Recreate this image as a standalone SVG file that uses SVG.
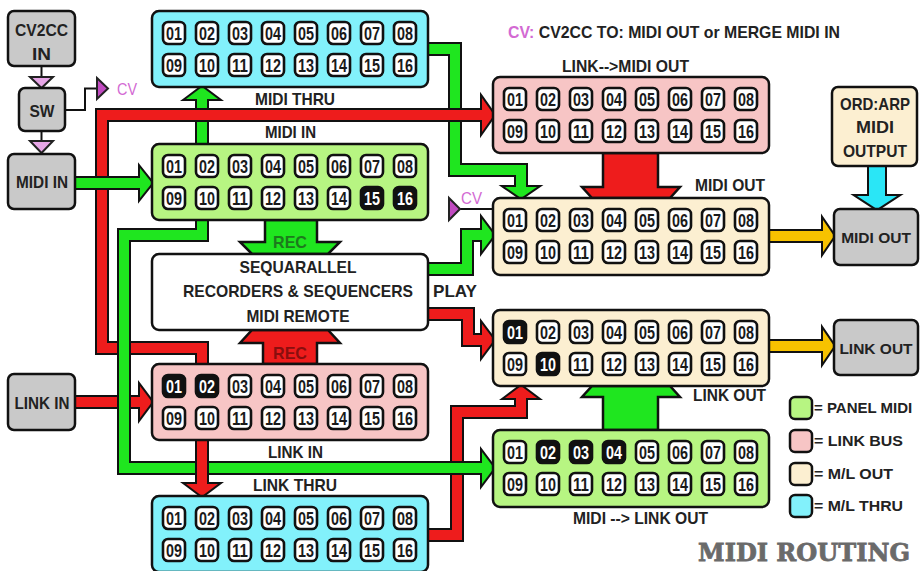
<svg xmlns="http://www.w3.org/2000/svg" xmlns:xlink="http://www.w3.org/1999/xlink" width="920" height="571" viewBox="0 0 920 571">
<style>
.panel{stroke:#111;stroke-width:2.5}
.cyan{fill:#82f1fb}.green{fill:#b7f582}.pink{fill:#f7c5c5}.cream{fill:#fcefd1}.gray{fill:#c9c9c9}.white{fill:#fff}
.n{font-family:"Liberation Sans",Arial,sans-serif;font-weight:bold;font-size:19px;text-anchor:middle;fill:#1a1a1a}
.n.wt{fill:#fff}
.t{font-family:"Liberation Sans",Arial,sans-serif;font-weight:bold;font-size:17px;text-anchor:middle;fill:#222}
.ls{text-anchor:start}
.sm{font-size:15.5px}
.lg{font-size:15px}
.so{fill:none;stroke:#111;stroke-width:14;stroke-linejoin:miter}
.sf{fill:none;stroke-width:10;stroke-linejoin:miter}
.ho{fill:#111;stroke:#111;stroke-width:4;stroke-linejoin:miter}
.hf{stroke:none}
.r .sf{stroke:#ee1c1c}.r .hf{fill:#ee1c1c}
.g .sf{stroke:#1fe61f}.g .hf{fill:#1fe61f}
.y .sf{stroke:#f7c200}.y .hf{fill:#f7c200}
.c .sf{stroke:#2ae6f6;stroke-width:16}.c .so{stroke-width:20}.c .hf{fill:#2ae6f6}
.blk{stroke:#111;stroke-width:2.5;stroke-linejoin:miter}
.tri{stroke:#222;stroke-width:2}
.thin{fill:none;stroke:#111;stroke-width:2}
.cv{font-family:"Liberation Sans",Arial,sans-serif;font-size:16px;fill:#d36ad3}
</style>
<defs>
<rect id="w" width="22" height="22" rx="5" fill="#fff" stroke="#111" stroke-width="2.6"/>
<rect id="k" width="22" height="22" rx="5" fill="#111" stroke="#111" stroke-width="2.6"/>
</defs>
<rect width="920" height="571" fill="#fff"/>

<g id="connectors">
<g class="g"><path class="so" d="M202,144 V97"/><polygon class="ho" points="186,99 202,87 218,99"/><path class="sf" d="M202,144 V97"/><polygon class="hf" points="186,99 202,87 218,99"/></g>
<g class="g"><path class="so" d="M428,49 H455 V170 H521 V190"/><polygon class="ho" points="505,187 521,198 537,187"/><path class="sf" d="M428,49 H455 V170 H521 V190"/><polygon class="hf" points="505,187 521,198 537,187"/></g>
<g class="r"><path class="so" d="M75,402 H143"/><polygon class="ho" points="140,386 152,402 140,418"/><path class="sf" d="M75,402 H143"/><polygon class="hf" points="140,386 152,402 140,418"/></g>
<g class="r"><path class="so" d="M428,535 H457 V412 H521 V395"/><polygon class="ho" points="505,398 521,386 537,398"/><path class="sf" d="M428,535 H457 V412 H521 V395"/><polygon class="hf" points="505,398 521,386 537,398"/></g>
<g class="r"><path class="so" d="M202,364 V348 H102 V115 H485"/><polygon class="ho" points="482,98 494,115 482,132"/><path class="sf" d="M202,364 V348 H102 V115 H485"/><polygon class="hf" points="482,98 494,115 482,132"/></g>
<g class="g"><path class="so" d="M202,220 V235 H124 V468 H485"/><polygon class="ho" points="482,452 494,468 482,484"/><path class="sf" d="M202,220 V235 H124 V468 H485"/><polygon class="hf" points="482,452 494,468 482,484"/></g>
<g class="r"><path class="so" d="M202,440 V487"/><polygon class="ho" points="186,484 202,496 218,484"/><path class="sf" d="M202,440 V487"/><polygon class="hf" points="186,484 202,496 218,484"/></g>
<g class="g"><path class="so" d="M75,183 H143"/><polygon class="ho" points="140,168 152,183 140,198"/><path class="sf" d="M75,183 H143"/><polygon class="hf" points="140,168 152,183 140,198"/></g>
<g class="g"><path class="so" d="M428,269 H467 V235 H485"/><polygon class="ho" points="482,219 494,235 482,251"/><path class="sf" d="M428,269 H467 V235 H485"/><polygon class="hf" points="482,219 494,235 482,251"/></g>
<g class="r"><path class="so" d="M428,314 H468 V340 H485"/><polygon class="ho" points="482,324 494,340 482,356"/><path class="sf" d="M428,314 H468 V340 H485"/><polygon class="hf" points="482,324 494,340 482,356"/></g>
<g class="y"><path class="so" d="M769,236 H826"/><polygon class="ho" points="823,220 834,236 823,252"/><path class="sf" d="M769,236 H826"/><polygon class="hf" points="823,220 834,236 823,252"/></g>
<g class="y"><path class="so" d="M769,346 H826"/><polygon class="ho" points="823,330 834,346 823,362"/><path class="sf" d="M769,346 H826"/><polygon class="hf" points="823,330 834,346 823,362"/></g>
<g class="c"><path class="so" d="M877,166 V199"/><polygon class="ho" points="857,196 877,209 897,196"/><path class="sf" d="M877,166 V199"/><polygon class="hf" points="857,196 877,209 897,196"/></g>
<polygon class="blk" fill="#1fe61f" points="265,220 317,220 317,242 340,242 328,254 252,254 240,242 265,242"/>
<polygon class="blk" fill="#ee1c1c" points="263,364 317,364 317,343 340,343 328,330 252,330 240,343 263,343"/>
<polygon class="blk" fill="#ee1c1c" points="603,153 658,153 658,187 680,187 670,198 592,198 582,187 603,187"/>
<polygon class="blk" fill="#1fe61f" points="603,430 658,430 658,397 680,397 670,386 592,386 582,397 603,397"/>
<text class="t" x="290" y="248" style="fill:#1d7a1d" textLength="34" lengthAdjust="spacingAndGlyphs">REC</text>
<text class="t" x="290" y="359" style="fill:#8a0e0e" textLength="34" lengthAdjust="spacingAndGlyphs">REC</text>
<line class="thin" x1="41.5" y1="66" x2="41.5" y2="77"/>
<line class="thin" x1="41.5" y1="131" x2="41.5" y2="141"/>
<polyline class="thin" points="65,110 85,110 85,88.5 97,88.5"/>
<line class="thin" x1="460" y1="209" x2="493" y2="209"/>
<polygon class="tri" fill="#e7a6e7" points="30,77 53,77 41.5,88"/>
<polygon class="tri" fill="#e7a6e7" points="30,141 53,141 41.5,153"/>
<polygon class="tri" fill="#c04ac0" points="97,78 108,88.5 97,99"/>
<polygon class="tri" fill="#c04ac0" points="449,198 460,209 449,220"/>
</g>

<g id="cv2cc-in"><rect class="panel gray" x="8" y="11" width="67" height="55" rx="6"/><text class="t" x="41.5" y="36" textLength="53" lengthAdjust="spacingAndGlyphs">CV2CC</text><text class="t" x="41.5" y="60" textLength="19" lengthAdjust="spacingAndGlyphs">IN</text></g>
<g id="sw"><rect class="panel gray" x="19" y="88" width="46" height="43" rx="6"/><text class="t" x="42" y="117" textLength="25" lengthAdjust="spacingAndGlyphs">SW</text></g>
<g id="midi-in-port"><rect class="panel gray" x="8" y="154" width="67" height="55" rx="6"/><text class="t" x="42" y="188" textLength="52" lengthAdjust="spacingAndGlyphs">MIDI IN</text></g>
<g id="link-in-port"><rect class="panel gray" x="8" y="374" width="67" height="56" rx="6"/><text class="t" x="42" y="409" textLength="55" lengthAdjust="spacingAndGlyphs">LINK IN</text></g>
<g id="midi-out-port"><rect class="panel gray" x="834" y="209" width="84" height="56" rx="6"/><text class="t sm" x="876" y="243">MIDI OUT</text></g>
<g id="link-out-port"><rect class="panel gray" x="834" y="320" width="84" height="55" rx="6"/><text class="t sm" x="876" y="354">LINK OUT</text></g>
<g id="ordarp"><rect class="panel cream" x="832" y="87" width="85" height="79" rx="6"/><text class="t" x="875" y="110" textLength="70" lengthAdjust="spacingAndGlyphs">ORD:ARP</text><text class="t" x="875" y="133" textLength="38" lengthAdjust="spacingAndGlyphs">MIDI</text><text class="t" x="875" y="157" textLength="64" lengthAdjust="spacingAndGlyphs">OUTPUT</text></g>

<g id="sequencer"><rect class="panel white" x="152" y="254" width="276" height="76" rx="7"/>
<text class="t" x="298" y="273" textLength="117" lengthAdjust="spacingAndGlyphs">SEQUARALLEL</text>
<text class="t" x="298" y="297" textLength="230" lengthAdjust="spacingAndGlyphs">RECORDERS &amp; SEQUENCERS</text>
<text class="t" x="298" y="322" textLength="103" lengthAdjust="spacingAndGlyphs">MIDI REMOTE</text></g>

<g id="midi-thru" transform="translate(152,11)"><rect class="panel cyan" width="276" height="76" rx="7"/>
<use href="#w" x="11" y="11"/><use href="#w" x="44" y="11"/><use href="#w" x="77" y="11"/><use href="#w" x="110" y="11"/><use href="#w" x="143" y="11"/><use href="#w" x="176" y="11"/><use href="#w" x="209" y="11"/><use href="#w" x="242" y="11"/>
<use href="#w" x="11" y="43"/><use href="#w" x="44" y="43"/><use href="#w" x="77" y="43"/><use href="#w" x="110" y="43"/><use href="#w" x="143" y="43"/><use href="#w" x="176" y="43"/><use href="#w" x="209" y="43"/><use href="#w" x="242" y="43"/>
<text class="n" x="22" y="29" textLength="16" lengthAdjust="spacingAndGlyphs">01</text><text class="n" x="55" y="29" textLength="16" lengthAdjust="spacingAndGlyphs">02</text><text class="n" x="88" y="29" textLength="16" lengthAdjust="spacingAndGlyphs">03</text><text class="n" x="121" y="29" textLength="16" lengthAdjust="spacingAndGlyphs">04</text><text class="n" x="154" y="29" textLength="16" lengthAdjust="spacingAndGlyphs">05</text><text class="n" x="187" y="29" textLength="16" lengthAdjust="spacingAndGlyphs">06</text><text class="n" x="220" y="29" textLength="16" lengthAdjust="spacingAndGlyphs">07</text><text class="n" x="253" y="29" textLength="16" lengthAdjust="spacingAndGlyphs">08</text>
<text class="n" x="22" y="61" textLength="16" lengthAdjust="spacingAndGlyphs">09</text><text class="n" x="55" y="61" textLength="16" lengthAdjust="spacingAndGlyphs">10</text><text class="n" x="88" y="61" textLength="16" lengthAdjust="spacingAndGlyphs">11</text><text class="n" x="121" y="61" textLength="16" lengthAdjust="spacingAndGlyphs">12</text><text class="n" x="154" y="61" textLength="16" lengthAdjust="spacingAndGlyphs">13</text><text class="n" x="187" y="61" textLength="16" lengthAdjust="spacingAndGlyphs">14</text><text class="n" x="220" y="61" textLength="16" lengthAdjust="spacingAndGlyphs">15</text><text class="n" x="253" y="61" textLength="16" lengthAdjust="spacingAndGlyphs">16</text>
</g>

<g id="midi-in" transform="translate(152,144)"><rect class="panel green" width="276" height="76" rx="7"/>
<use href="#w" x="11" y="11"/><use href="#w" x="44" y="11"/><use href="#w" x="77" y="11"/><use href="#w" x="110" y="11"/><use href="#w" x="143" y="11"/><use href="#w" x="176" y="11"/><use href="#w" x="209" y="11"/><use href="#w" x="242" y="11"/>
<use href="#w" x="11" y="43"/><use href="#w" x="44" y="43"/><use href="#w" x="77" y="43"/><use href="#w" x="110" y="43"/><use href="#w" x="143" y="43"/><use href="#w" x="176" y="43"/><use href="#k" x="209" y="43"/><use href="#k" x="242" y="43"/>
<text class="n" x="22" y="29" textLength="16" lengthAdjust="spacingAndGlyphs">01</text><text class="n" x="55" y="29" textLength="16" lengthAdjust="spacingAndGlyphs">02</text><text class="n" x="88" y="29" textLength="16" lengthAdjust="spacingAndGlyphs">03</text><text class="n" x="121" y="29" textLength="16" lengthAdjust="spacingAndGlyphs">04</text><text class="n" x="154" y="29" textLength="16" lengthAdjust="spacingAndGlyphs">05</text><text class="n" x="187" y="29" textLength="16" lengthAdjust="spacingAndGlyphs">06</text><text class="n" x="220" y="29" textLength="16" lengthAdjust="spacingAndGlyphs">07</text><text class="n" x="253" y="29" textLength="16" lengthAdjust="spacingAndGlyphs">08</text>
<text class="n" x="22" y="61" textLength="16" lengthAdjust="spacingAndGlyphs">09</text><text class="n" x="55" y="61" textLength="16" lengthAdjust="spacingAndGlyphs">10</text><text class="n" x="88" y="61" textLength="16" lengthAdjust="spacingAndGlyphs">11</text><text class="n" x="121" y="61" textLength="16" lengthAdjust="spacingAndGlyphs">12</text><text class="n" x="154" y="61" textLength="16" lengthAdjust="spacingAndGlyphs">13</text><text class="n" x="187" y="61" textLength="16" lengthAdjust="spacingAndGlyphs">14</text><text class="n wt" x="220" y="61" textLength="16" lengthAdjust="spacingAndGlyphs">15</text><text class="n wt" x="253" y="61" textLength="16" lengthAdjust="spacingAndGlyphs">16</text>
</g>

<g id="link-in" transform="translate(152,364)"><rect class="panel pink" width="276" height="76" rx="7"/>
<use href="#k" x="11" y="11"/><use href="#k" x="44" y="11"/><use href="#w" x="77" y="11"/><use href="#w" x="110" y="11"/><use href="#w" x="143" y="11"/><use href="#w" x="176" y="11"/><use href="#w" x="209" y="11"/><use href="#w" x="242" y="11"/>
<use href="#w" x="11" y="43"/><use href="#w" x="44" y="43"/><use href="#w" x="77" y="43"/><use href="#w" x="110" y="43"/><use href="#w" x="143" y="43"/><use href="#w" x="176" y="43"/><use href="#w" x="209" y="43"/><use href="#w" x="242" y="43"/>
<text class="n wt" x="22" y="29" textLength="16" lengthAdjust="spacingAndGlyphs">01</text><text class="n wt" x="55" y="29" textLength="16" lengthAdjust="spacingAndGlyphs">02</text><text class="n" x="88" y="29" textLength="16" lengthAdjust="spacingAndGlyphs">03</text><text class="n" x="121" y="29" textLength="16" lengthAdjust="spacingAndGlyphs">04</text><text class="n" x="154" y="29" textLength="16" lengthAdjust="spacingAndGlyphs">05</text><text class="n" x="187" y="29" textLength="16" lengthAdjust="spacingAndGlyphs">06</text><text class="n" x="220" y="29" textLength="16" lengthAdjust="spacingAndGlyphs">07</text><text class="n" x="253" y="29" textLength="16" lengthAdjust="spacingAndGlyphs">08</text>
<text class="n" x="22" y="61" textLength="16" lengthAdjust="spacingAndGlyphs">09</text><text class="n" x="55" y="61" textLength="16" lengthAdjust="spacingAndGlyphs">10</text><text class="n" x="88" y="61" textLength="16" lengthAdjust="spacingAndGlyphs">11</text><text class="n" x="121" y="61" textLength="16" lengthAdjust="spacingAndGlyphs">12</text><text class="n" x="154" y="61" textLength="16" lengthAdjust="spacingAndGlyphs">13</text><text class="n" x="187" y="61" textLength="16" lengthAdjust="spacingAndGlyphs">14</text><text class="n" x="220" y="61" textLength="16" lengthAdjust="spacingAndGlyphs">15</text><text class="n" x="253" y="61" textLength="16" lengthAdjust="spacingAndGlyphs">16</text>
</g>

<g id="link-thru" transform="translate(152,496)"><rect class="panel cyan" width="276" height="76" rx="7"/>
<use href="#w" x="11" y="11"/><use href="#w" x="44" y="11"/><use href="#w" x="77" y="11"/><use href="#w" x="110" y="11"/><use href="#w" x="143" y="11"/><use href="#w" x="176" y="11"/><use href="#w" x="209" y="11"/><use href="#w" x="242" y="11"/>
<use href="#w" x="11" y="43"/><use href="#w" x="44" y="43"/><use href="#w" x="77" y="43"/><use href="#w" x="110" y="43"/><use href="#w" x="143" y="43"/><use href="#w" x="176" y="43"/><use href="#w" x="209" y="43"/><use href="#w" x="242" y="43"/>
<text class="n" x="22" y="29" textLength="16" lengthAdjust="spacingAndGlyphs">01</text><text class="n" x="55" y="29" textLength="16" lengthAdjust="spacingAndGlyphs">02</text><text class="n" x="88" y="29" textLength="16" lengthAdjust="spacingAndGlyphs">03</text><text class="n" x="121" y="29" textLength="16" lengthAdjust="spacingAndGlyphs">04</text><text class="n" x="154" y="29" textLength="16" lengthAdjust="spacingAndGlyphs">05</text><text class="n" x="187" y="29" textLength="16" lengthAdjust="spacingAndGlyphs">06</text><text class="n" x="220" y="29" textLength="16" lengthAdjust="spacingAndGlyphs">07</text><text class="n" x="253" y="29" textLength="16" lengthAdjust="spacingAndGlyphs">08</text>
<text class="n" x="22" y="61" textLength="16" lengthAdjust="spacingAndGlyphs">09</text><text class="n" x="55" y="61" textLength="16" lengthAdjust="spacingAndGlyphs">10</text><text class="n" x="88" y="61" textLength="16" lengthAdjust="spacingAndGlyphs">11</text><text class="n" x="121" y="61" textLength="16" lengthAdjust="spacingAndGlyphs">12</text><text class="n" x="154" y="61" textLength="16" lengthAdjust="spacingAndGlyphs">13</text><text class="n" x="187" y="61" textLength="16" lengthAdjust="spacingAndGlyphs">14</text><text class="n" x="220" y="61" textLength="16" lengthAdjust="spacingAndGlyphs">15</text><text class="n" x="253" y="61" textLength="16" lengthAdjust="spacingAndGlyphs">16</text>
</g>

<g id="link-midi-out" transform="translate(493,77)"><rect class="panel pink" width="276" height="76" rx="7"/>
<use href="#w" x="11" y="11"/><use href="#w" x="44" y="11"/><use href="#w" x="77" y="11"/><use href="#w" x="110" y="11"/><use href="#w" x="143" y="11"/><use href="#w" x="176" y="11"/><use href="#w" x="209" y="11"/><use href="#w" x="242" y="11"/>
<use href="#w" x="11" y="43"/><use href="#w" x="44" y="43"/><use href="#w" x="77" y="43"/><use href="#w" x="110" y="43"/><use href="#w" x="143" y="43"/><use href="#w" x="176" y="43"/><use href="#w" x="209" y="43"/><use href="#w" x="242" y="43"/>
<text class="n" x="22" y="29" textLength="16" lengthAdjust="spacingAndGlyphs">01</text><text class="n" x="55" y="29" textLength="16" lengthAdjust="spacingAndGlyphs">02</text><text class="n" x="88" y="29" textLength="16" lengthAdjust="spacingAndGlyphs">03</text><text class="n" x="121" y="29" textLength="16" lengthAdjust="spacingAndGlyphs">04</text><text class="n" x="154" y="29" textLength="16" lengthAdjust="spacingAndGlyphs">05</text><text class="n" x="187" y="29" textLength="16" lengthAdjust="spacingAndGlyphs">06</text><text class="n" x="220" y="29" textLength="16" lengthAdjust="spacingAndGlyphs">07</text><text class="n" x="253" y="29" textLength="16" lengthAdjust="spacingAndGlyphs">08</text>
<text class="n" x="22" y="61" textLength="16" lengthAdjust="spacingAndGlyphs">09</text><text class="n" x="55" y="61" textLength="16" lengthAdjust="spacingAndGlyphs">10</text><text class="n" x="88" y="61" textLength="16" lengthAdjust="spacingAndGlyphs">11</text><text class="n" x="121" y="61" textLength="16" lengthAdjust="spacingAndGlyphs">12</text><text class="n" x="154" y="61" textLength="16" lengthAdjust="spacingAndGlyphs">13</text><text class="n" x="187" y="61" textLength="16" lengthAdjust="spacingAndGlyphs">14</text><text class="n" x="220" y="61" textLength="16" lengthAdjust="spacingAndGlyphs">15</text><text class="n" x="253" y="61" textLength="16" lengthAdjust="spacingAndGlyphs">16</text>
</g>

<g id="midi-out" transform="translate(493,198)"><rect class="panel cream" width="276" height="77" rx="7"/>
<use href="#w" x="11" y="11"/><use href="#w" x="44" y="11"/><use href="#w" x="77" y="11"/><use href="#w" x="110" y="11"/><use href="#w" x="143" y="11"/><use href="#w" x="176" y="11"/><use href="#w" x="209" y="11"/><use href="#w" x="242" y="11"/>
<use href="#w" x="11" y="43"/><use href="#w" x="44" y="43"/><use href="#w" x="77" y="43"/><use href="#w" x="110" y="43"/><use href="#w" x="143" y="43"/><use href="#w" x="176" y="43"/><use href="#w" x="209" y="43"/><use href="#w" x="242" y="43"/>
<text class="n" x="22" y="29" textLength="16" lengthAdjust="spacingAndGlyphs">01</text><text class="n" x="55" y="29" textLength="16" lengthAdjust="spacingAndGlyphs">02</text><text class="n" x="88" y="29" textLength="16" lengthAdjust="spacingAndGlyphs">03</text><text class="n" x="121" y="29" textLength="16" lengthAdjust="spacingAndGlyphs">04</text><text class="n" x="154" y="29" textLength="16" lengthAdjust="spacingAndGlyphs">05</text><text class="n" x="187" y="29" textLength="16" lengthAdjust="spacingAndGlyphs">06</text><text class="n" x="220" y="29" textLength="16" lengthAdjust="spacingAndGlyphs">07</text><text class="n" x="253" y="29" textLength="16" lengthAdjust="spacingAndGlyphs">08</text>
<text class="n" x="22" y="61" textLength="16" lengthAdjust="spacingAndGlyphs">09</text><text class="n" x="55" y="61" textLength="16" lengthAdjust="spacingAndGlyphs">10</text><text class="n" x="88" y="61" textLength="16" lengthAdjust="spacingAndGlyphs">11</text><text class="n" x="121" y="61" textLength="16" lengthAdjust="spacingAndGlyphs">12</text><text class="n" x="154" y="61" textLength="16" lengthAdjust="spacingAndGlyphs">13</text><text class="n" x="187" y="61" textLength="16" lengthAdjust="spacingAndGlyphs">14</text><text class="n" x="220" y="61" textLength="16" lengthAdjust="spacingAndGlyphs">15</text><text class="n" x="253" y="61" textLength="16" lengthAdjust="spacingAndGlyphs">16</text>
</g>

<g id="link-out" transform="translate(493,310)"><rect class="panel cream" width="276" height="76" rx="7"/>
<use href="#k" x="11" y="11"/><use href="#w" x="44" y="11"/><use href="#w" x="77" y="11"/><use href="#w" x="110" y="11"/><use href="#w" x="143" y="11"/><use href="#w" x="176" y="11"/><use href="#w" x="209" y="11"/><use href="#w" x="242" y="11"/>
<use href="#w" x="11" y="43"/><use href="#k" x="44" y="43"/><use href="#w" x="77" y="43"/><use href="#w" x="110" y="43"/><use href="#w" x="143" y="43"/><use href="#w" x="176" y="43"/><use href="#w" x="209" y="43"/><use href="#w" x="242" y="43"/>
<text class="n wt" x="22" y="29" textLength="16" lengthAdjust="spacingAndGlyphs">01</text><text class="n" x="55" y="29" textLength="16" lengthAdjust="spacingAndGlyphs">02</text><text class="n" x="88" y="29" textLength="16" lengthAdjust="spacingAndGlyphs">03</text><text class="n" x="121" y="29" textLength="16" lengthAdjust="spacingAndGlyphs">04</text><text class="n" x="154" y="29" textLength="16" lengthAdjust="spacingAndGlyphs">05</text><text class="n" x="187" y="29" textLength="16" lengthAdjust="spacingAndGlyphs">06</text><text class="n" x="220" y="29" textLength="16" lengthAdjust="spacingAndGlyphs">07</text><text class="n" x="253" y="29" textLength="16" lengthAdjust="spacingAndGlyphs">08</text>
<text class="n" x="22" y="61" textLength="16" lengthAdjust="spacingAndGlyphs">09</text><text class="n wt" x="55" y="61" textLength="16" lengthAdjust="spacingAndGlyphs">10</text><text class="n" x="88" y="61" textLength="16" lengthAdjust="spacingAndGlyphs">11</text><text class="n" x="121" y="61" textLength="16" lengthAdjust="spacingAndGlyphs">12</text><text class="n" x="154" y="61" textLength="16" lengthAdjust="spacingAndGlyphs">13</text><text class="n" x="187" y="61" textLength="16" lengthAdjust="spacingAndGlyphs">14</text><text class="n" x="220" y="61" textLength="16" lengthAdjust="spacingAndGlyphs">15</text><text class="n" x="253" y="61" textLength="16" lengthAdjust="spacingAndGlyphs">16</text>
</g>

<g id="midi-link-out" transform="translate(493,430)"><rect class="panel green" width="276" height="77" rx="7"/>
<use href="#w" x="11" y="11"/><use href="#k" x="44" y="11"/><use href="#k" x="77" y="11"/><use href="#k" x="110" y="11"/><use href="#w" x="143" y="11"/><use href="#w" x="176" y="11"/><use href="#w" x="209" y="11"/><use href="#w" x="242" y="11"/>
<use href="#w" x="11" y="43"/><use href="#w" x="44" y="43"/><use href="#w" x="77" y="43"/><use href="#w" x="110" y="43"/><use href="#w" x="143" y="43"/><use href="#w" x="176" y="43"/><use href="#w" x="209" y="43"/><use href="#w" x="242" y="43"/>
<text class="n" x="22" y="29" textLength="16" lengthAdjust="spacingAndGlyphs">01</text><text class="n wt" x="55" y="29" textLength="16" lengthAdjust="spacingAndGlyphs">02</text><text class="n wt" x="88" y="29" textLength="16" lengthAdjust="spacingAndGlyphs">03</text><text class="n wt" x="121" y="29" textLength="16" lengthAdjust="spacingAndGlyphs">04</text><text class="n" x="154" y="29" textLength="16" lengthAdjust="spacingAndGlyphs">05</text><text class="n" x="187" y="29" textLength="16" lengthAdjust="spacingAndGlyphs">06</text><text class="n" x="220" y="29" textLength="16" lengthAdjust="spacingAndGlyphs">07</text><text class="n" x="253" y="29" textLength="16" lengthAdjust="spacingAndGlyphs">08</text>
<text class="n" x="22" y="61" textLength="16" lengthAdjust="spacingAndGlyphs">09</text><text class="n" x="55" y="61" textLength="16" lengthAdjust="spacingAndGlyphs">10</text><text class="n" x="88" y="61" textLength="16" lengthAdjust="spacingAndGlyphs">11</text><text class="n" x="121" y="61" textLength="16" lengthAdjust="spacingAndGlyphs">12</text><text class="n" x="154" y="61" textLength="16" lengthAdjust="spacingAndGlyphs">13</text><text class="n" x="187" y="61" textLength="16" lengthAdjust="spacingAndGlyphs">14</text><text class="n" x="220" y="61" textLength="16" lengthAdjust="spacingAndGlyphs">15</text><text class="n" x="253" y="61" textLength="16" lengthAdjust="spacingAndGlyphs">16</text>
</g>

<g id="labels">
<text class="t ls" x="508" y="38" textLength="332" lengthAdjust="spacingAndGlyphs"><tspan style="fill:#d36ad3">CV:</tspan> CV2CC TO: MIDI OUT or MERGE MIDI IN</text>
<text class="cv" x="117" y="95" textLength="20" lengthAdjust="spacingAndGlyphs">CV</text>
<text class="cv" x="461" y="204" textLength="21" lengthAdjust="spacingAndGlyphs">CV</text>
<text class="t" x="295" y="105" textLength="80" lengthAdjust="spacingAndGlyphs">MIDI THRU</text>
<text class="t" x="290.5" y="138" textLength="51" lengthAdjust="spacingAndGlyphs">MIDI IN</text>
<text class="t" x="295.5" y="458" textLength="55" lengthAdjust="spacingAndGlyphs">LINK IN</text>
<text class="t" x="295" y="491" textLength="84" lengthAdjust="spacingAndGlyphs">LINK THRU</text>
<text class="t" x="625.5" y="72" textLength="127" lengthAdjust="spacingAndGlyphs">LINK--&gt;MIDI OUT</text>
<text class="t" x="730" y="191" textLength="70" lengthAdjust="spacingAndGlyphs">MIDI OUT</text>
<text class="t" x="729.5" y="401" textLength="73" lengthAdjust="spacingAndGlyphs">LINK OUT</text>
<text class="t" x="640.5" y="524" textLength="135" lengthAdjust="spacingAndGlyphs">MIDI --&gt; LINK OUT</text>
<text class="t" x="455" y="297" textLength="44" lengthAdjust="spacingAndGlyphs">PLAY</text>
</g>

<g id="legend">
<rect class="panel green" x="790" y="397" width="22" height="22" rx="5"/>
<rect class="panel pink" x="790" y="430" width="22" height="22" rx="5"/>
<rect class="panel cream" x="790" y="463" width="22" height="22" rx="5"/>
<rect class="panel cyan" x="790" y="495" width="22" height="22" rx="5"/>
<text class="t ls lg" x="814" y="413">= PANEL MIDI</text>
<text class="t ls lg" x="814" y="446" textLength="89" lengthAdjust="spacingAndGlyphs">= LINK BUS</text>
<text class="t ls lg" x="814" y="479" textLength="79" lengthAdjust="spacingAndGlyphs">= M/L OUT</text>
<text class="t ls lg" x="814" y="511" textLength="89" lengthAdjust="spacingAndGlyphs">= M/L THRU</text>
</g>
<text x="698" y="561" font-family="'DejaVu Serif','Liberation Serif',serif" font-weight="bold" font-size="25" fill="#6a6a6a" stroke="#6a6a6a" stroke-width="0.8" textLength="212" lengthAdjust="spacingAndGlyphs">MIDI ROUTING</text>
</svg>
